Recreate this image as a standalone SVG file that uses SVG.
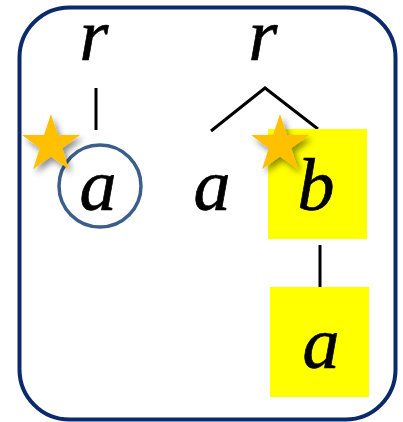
<svg xmlns="http://www.w3.org/2000/svg" width="403" height="422" viewBox="0 0 403 422">
<defs>
<style>
.t{font-family:"Liberation Serif","DejaVu Serif",serif;font-style:italic;font-size:74px;fill:#000;stroke:#000;stroke-width:0.7;text-anchor:middle}
.e{stroke:#000;stroke-width:3;fill:none}
.hl{fill:#ffff00}
.star{fill:#ffc000;filter:url(#sh)}
</style>
<filter id="sh" x="-50%" y="-50%" width="200%" height="200%">
<feDropShadow dx="3" dy="4" stdDeviation="3" flood-color="#000" flood-opacity="0.45"/>
</filter>
<polygon id="st" points="0,-30.5 7,-9.6 29,-9.4 11.3,3.7 17.9,24.7 0,12 -17.9,24.7 -11.3,3.7 -29,-9.4 -7,-9.6"/>
</defs>
<rect x="19.5" y="7.5" width="376" height="412" rx="50" ry="50" fill="#fff" stroke="#0b2a6b" stroke-width="4"/>
<g id="connectors">
<line class="e" x1="96" y1="88" x2="96" y2="130"/>
<polyline class="e" points="211,131 265,88 318,129"/>
<line class="e" x1="320" y1="245" x2="320" y2="287"/>
</g>
<g id="r1"><text class="t" x="94" y="60">r</text></g>
<g id="a1">
<circle cx="100" cy="186" r="41" fill="none" stroke="#3b5f8a" stroke-width="3.5"/>
<text class="t" x="98" y="210">a</text>
</g>
<g id="r2"><text class="t" x="263" y="60">r</text></g>
<g id="a2"><text class="t" x="212" y="210">a</text></g>
<g id="b">
<rect class="hl" x="268" y="129" width="99" height="110"/>
<text class="t" x="316" y="210">b</text>
</g>
<g id="a3">
<rect class="hl" x="270" y="287" width="99" height="110"/>
<text class="t" x="321" y="368">a</text>
</g>
<g id="star1"><use href="#st" class="star" transform="translate(51,144.5)"/></g>
<g id="star2"><use href="#st" class="star" transform="translate(280,144.5)"/></g>
</svg>
